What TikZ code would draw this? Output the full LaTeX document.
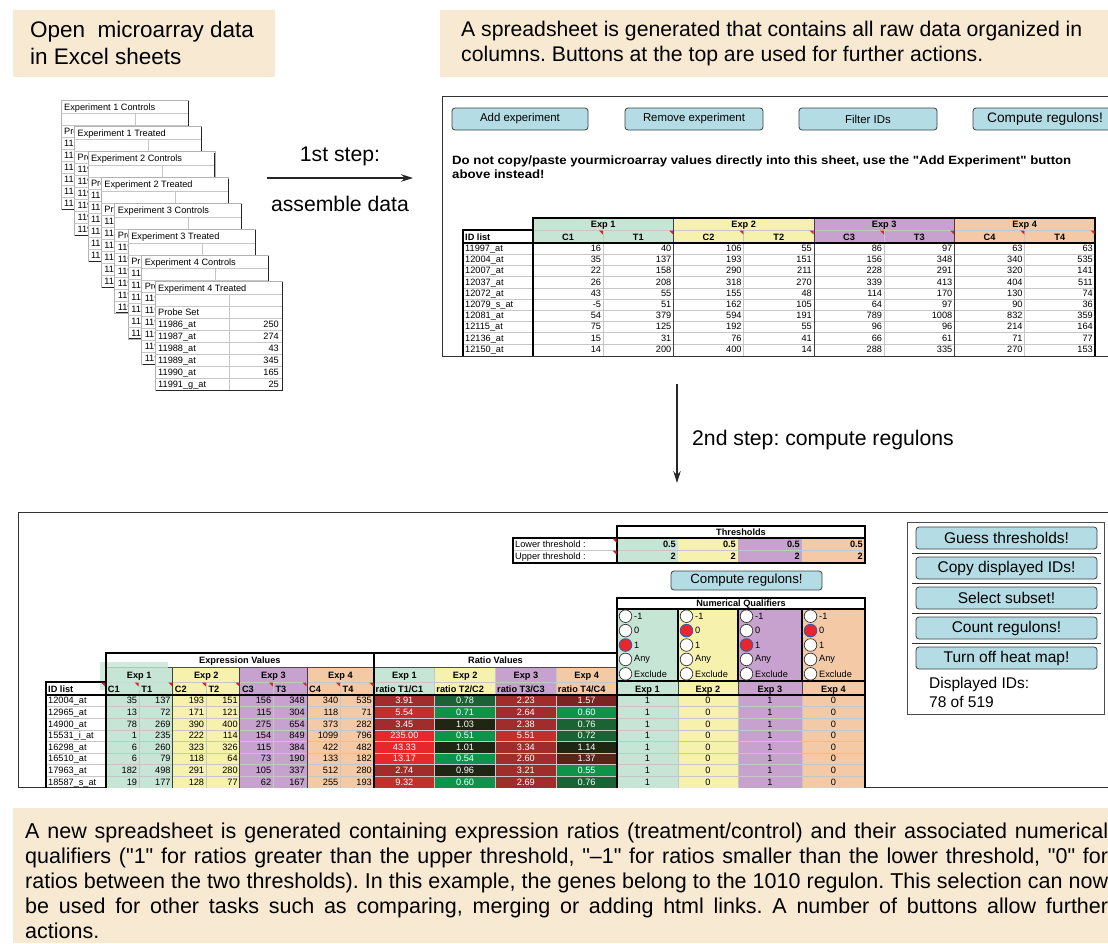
\documentclass[tikz,border=0pt]{standalone}
\usepackage{fontspec}
\setmainfont{Liberation Sans}
\newfontfamily\plainfont{Liberation Sans}
\newfontfamily\widefont[FakeStretch=1.1]{Liberation Sans}
\usetikzlibrary{arrows.meta}
\frenchspacing

\definecolor{capbg}{HTML}{F8E9D3}
\definecolor{btn}{HTML}{B4DCE5}
\definecolor{ex1}{HTML}{C7E5D4}
\definecolor{ex2}{HTML}{F7F1AE}
\definecolor{ex3}{HTML}{C8A2CE}
\definecolor{ex4}{HTML}{F4CAA6}
\definecolor{commark}{HTML}{E02020}
\definecolor{qred}{HTML}{E8262B}
\definecolor{qblue}{HTML}{3A5BA8}
\definecolor{hr4}{HTML}{E6282C}
\definecolor{hr3}{HTML}{C2302B}
\definecolor{hr2}{HTML}{A02C2C}
\definecolor{hr1}{HTML}{7A2521}
\definecolor{hr0}{HTML}{5A2414}
\definecolor{hk}{HTML}{1F2612}
\definecolor{hg1}{HTML}{1B6334}
\definecolor{hg2}{HTML}{0E944A}

\tikzset{
  tcell/.style={inner sep=0pt, font=\fontsize{9.2}{10}\selectfont},
  tbold/.style={inner sep=0pt, font=\fontsize{9.2}{10}\selectfont\bfseries},
  button/.style={draw=black!75, fill=btn, rounded corners=3pt, line width=0.8pt, inner sep=0pt},
  bigtext/.style={inner sep=0pt, anchor=base west, font=\fontsize{21.2}{25}\selectfont},
  captext/.style={inner sep=0pt, anchor=base west, font=\fontsize{21.5}{25}\selectfont},
  heavy/.style={line width=1.6pt},
  gridline/.style={draw=gray!45, line width=0.6pt},
  steparrow/.style={-{Stealth[length=12pt,width=7.5pt]}, line width=1.1pt, black!85},
  radio/.style={draw=black!80, fill=white, line width=0.7pt},
  radiosel/.style={draw=qblue, fill=qred, line width=0.9pt},
}
\newcommand{\commentmark}[2]{\fill[commark] ({#1-4.5},{#2+0.5}) -- ({#1-0.5},{#2+0.5}) -- ({#1-0.5},{#2+4.5}) -- cycle;}
\newcommand{\dq}{{\plainfont"}}
\newcommand{\capline}[1]{\makebox[1083pt][s]{#1}}

\begin{document}
\begin{tikzpicture}[x=1pt,y=-1pt]
\useasboundingbox (0,0) rectangle (1108,943);
\clip (0,0) rectangle (1108,943);

% captions
\fill[capbg] (13,10) rectangle (275,77);
\node[captext, font=\fontsize{22.5}{26}\selectfont] (cap1a) at (30,37.7) {Open\ \ microarray data};
\node[captext, font=\fontsize{22.5}{26}\selectfont] (cap1b) at (30,64.3) {in Excel sheets};
\fill[capbg] (440,10) rectangle (1108,77);
\node[bigtext] (cap2a) at (461,36) {A spreadsheet is generated that contains all raw data organized in};
\node[bigtext] (cap2b) at (461,61) {columns. Buttons at the top are used for further actions.};

% stacked excel sheets
\foreach \t [count=\i from 0] in {Experiment 1 Controls,Experiment 1 Treated,Experiment 2 Controls,Experiment 2 Treated,Experiment 3 Controls,Experiment 3 Treated,Experiment 4 Controls,Experiment 4 Treated}{
  \pgfmathsetmacro\sx{61+13.43*\i}
  \pgfmathsetmacro\sy{100+25.86*\i}
  \begin{scope}[shift={(\sx,\sy)}]
    \fill[white] (0,0) rectangle (127,109.5);
    \draw[gray!60, line width=0.6pt] (0,0) rectangle (127,109.5);
    \foreach \yy in {13.5,25.5,...,97.5} \draw[gridline] (0,\yy) -- (127,\yy);
    \draw[gridline] (74,13.5) -- (74,109.5);
    \draw[black!85, line width=1pt] (127,1) -- (127,109.5) -- (1,109.5);
    \node[tcell, anchor=base west] (sh\i) at (3,10.2) {\t};
    \node[tcell, anchor=base west] (sp\i) at (3,34.8) {Probe Set};
    \foreach \p/\v [count=\j from 0] in {11986\_at/250,11987\_at/274,11988\_at/43,11989\_at/345,11990\_at/165,11991\_g\_at/25}{
      \node[tcell, anchor=base west] (sp\i-\j) at (3,{46.8+12*\j}) {\p};
      \node[tcell, anchor=base east] (sv\i-\j) at (124,{46.8+12*\j}) {\v};
    }
  \end{scope}
}

% first step
\coordinate (a1s) at (267,178);
\coordinate (a1e) at (413,178);
\draw[steparrow] (a1s) -- (a1e);
\node[bigtext, anchor=base] (lstep1a) at (340,161.5) {1st step:};
\node[bigtext, anchor=base] (lstep1b) at (340,211.5) {assemble data};

% raw data spreadsheet
\draw[black!80, line width=0.9pt] (1112,96) -- (442,96) -- (442,356) -- (1112,356);
\node[button, minimum width=136pt, minimum height=22pt, font=\fontsize{11.4}{13}\selectfont] (badd) at (520,119) {Add experiment};
\node[button, minimum width=138pt, minimum height=22pt, font=\fontsize{11.4}{13}\selectfont] (brem) at (694,119) {Remove experiment};
\node[button, minimum width=138pt, minimum height=22pt, font=\fontsize{11.4}{13}\selectfont] (bfil) at (868,119) {Filter IDs};
\node[button, minimum width=144pt, minimum height=22pt, font=\fontsize{13.7}{15}\selectfont] (bcomp) at (1045,119) {Compute regulons!};
\node[inner sep=0pt, anchor=base west, font=\fontsize{12}{13}\widefont\bfseries] (warn1) at (452,164) {Do not copy/paste yourmicroarray values directly into this sheet, use the "Add Experiment" button};
\node[inner sep=0pt, anchor=base west, font=\fontsize{12}{13}\widefont\bfseries] (warn2) at (452,178.5) {above instead!};

\foreach \c [count=\g from 0] in {ex1,ex2,ex3,ex4}
  \fill[\c] ({533+140.5*\g},218) rectangle ({533+140.5*(\g+1)},243);
\foreach \r in {1,...,9} \draw[gridline] (463,{243+11.2*\r}) -- (1095,{243+11.2*\r});
\draw[gridline] (533,230) -- (1095,230);
\foreach \k in {1,3,5,7} \draw[gridline] ({533+70.25*\k},230) -- ({533+70.25*\k},356);
\foreach \k in {2,4,6} \draw[black!75, line width=0.8pt] ({533+70.25*\k},218) -- ({533+70.25*\k},356);
\draw[heavy] (533,356) -- (533,218) -- (1095,218) -- (1095,356);
\draw[heavy] (463,356) -- (463,230) -- (533,230);
\draw[heavy] (463,243) -- (1095,243);
\foreach \k in {1,...,8} {\commentmark{533+70.25*\k}{230}}
\foreach \n [count=\g from 0] in {1,2,3,4}
  \node[tbold, anchor=base] (texp\n) at ({603.25+140.5*\g},227.6) {Exp \n};
\foreach \s [count=\k from 0] in {C1,T1,C2,T2,C3,T3,C4,T4}
  \node[tbold, anchor=base] (tsub\s) at ({568.1+70.25*\k},240) {\s};
\node[tbold, anchor=base west] (tidh) at (465,240) {ID list};
\foreach \id [count=\r from 0] in {11997\_at,12004\_at,12007\_at,12037\_at,12072\_at,12079\_s\_at,12081\_at,12115\_at,12136\_at,12150\_at}
  \node[tcell, anchor=base west] (tid\r) at (465,{251.5+11.2*\r}) {\id};
\foreach \row [count=\r from 0] in {{16,40,106,55,86,97,63,63},{35,137,193,151,156,348,340,535},{22,158,290,211,228,291,320,141},{26,208,318,270,339,413,404,511},{43,55,155,48,114,170,130,74},{-5,51,162,105,64,97,90,36},{54,379,594,191,789,1008,832,359},{75,125,192,55,96,96,214,164},{15,31,76,41,66,61,71,77},{14,200,400,14,288,335,270,153}}{
  \foreach \v [count=\k from 1] in \row
    \node[tcell, anchor=base east] (tv\r-\k) at ({533+70.25*\k-2},{251.5+11.2*\r}) {\v};
}

% second step
\coordinate (a2s) at (677,384);
\coordinate (a2e) at (677,483);
\draw[steparrow] (a2s) -- (a2e);
\node[bigtext] (lstep2) at (692,445) {2nd step: compute regulons};

% regulon spreadsheet
\draw[black!80, line width=0.9pt] (1112,512) -- (18,512) -- (18,787.5) -- (1112,787.5);

\fill[white] (513,538) rectangle (617,563);
\foreach \c [count=\g from 0] in {ex1,ex2,ex3,ex4}{
  \fill[\c] ({105.7+67.075*\g},667) rectangle ({105.7+67.075*(\g+1)},788);
  \fill[\c] ({374+60.75*\g},667) rectangle ({374+60.75*(\g+1)},695);
}
\foreach \xa/\xb/\c in {617/678/ex1,678/738/ex2,738/802/ex3,802/865/ex4}{
  \fill[\c] (\xa,538) rectangle (\xb,563);
  \fill[\c] (\xa,609) rectangle (\xb,788);
}
\foreach \row [count=\r from 0] in {{3.91/hr2,0.78/hg1,2.23/hr2,1.57/hr1},{5.54/hr3,0.71/hg2,2.64/hr2,0.60/hg2},{3.45/hr2,1.03/hk,2.38/hr2,0.76/hg1},{235.00/hr4,0.51/hg2,5.51/hr3,0.72/hg1},{43.33/hr4,1.01/hk,3.34/hr2,1.14/hk},{13.17/hr4,0.54/hg2,2.60/hr2,1.37/hr0},{2.74/hr2,0.96/hk,3.21/hr2,0.55/hg2},{9.32/hr3,0.60/hg2,2.69/hr2,0.76/hg1}}{
  \foreach \v/\c [count=\k from 0] in \row{
    \fill[\c] ({374+60.75*\k},{695+11.6*\r}) rectangle ({374+60.75*(\k+1)},{695+11.6*(\r+1)});
    \node[tcell, text=white, anchor=base] (rv\r-\k) at ({404.4+60.75*\k},{703.8+11.6*\r}) {\v};
  }
}
\foreach \r in {1,...,7} \draw[gridline] (45.7,{695+11.6*\r}) -- (865,{695+11.6*\r});
\draw[gridline] (105.7,682) -- (617,682);
\draw[gridline] (513,550) -- (865,550);
\foreach \k in {1,3,5,7} \draw[gridline] ({105.7+33.5375*\k},682) -- ({105.7+33.5375*\k},788);
\foreach \k in {2,4,6} \draw[black!75, line width=0.8pt] ({105.7+33.5375*\k},667) -- ({105.7+33.5375*\k},788);
\foreach \k in {1,2,3} \draw[gridline] ({374+60.75*\k},667) -- ({374+60.75*\k},788);
\foreach \xq in {678,738,802}{
  \draw[black!75, line width=0.8pt] (\xq,681) -- (\xq,695);
  \draw[gridline] (\xq,695) -- (\xq,788);
}
\draw[black!70, line width=0.7pt] (105.7,667) -- (617,667);
\fill[ex1, opacity=0.8] (100,662) rectangle (168,690);
\draw[heavy] (105.7,788) -- (105.7,653) -- (617,653);
\draw[heavy] (374,653) -- (374,788);
\draw[heavy] (617,788) -- (617,598) -- (865,598) -- (865,788);
\draw[heavy] (617,609) -- (865,609);
\draw[heavy] (617,681) -- (865,681);
\foreach \xq in {678,738,802} \draw[heavy] (\xq,609) -- (\xq,681);
\draw[heavy] (45.7,788) -- (45.7,682) -- (105.7,682);
\draw[heavy] (45.7,695) -- (865,695);
\draw[heavy] (617,526) rectangle (865,563);
\draw[heavy] (617,538) -- (865,538);
\draw[heavy] (513,538) rectangle (617,563);
\commentmark{105.7}{682}
\foreach \k in {1,...,8} {\commentmark{105.7+33.5375*\k}{682}}
\commentmark{617}{538}
\commentmark{617}{550}

\node[tbold, anchor=base] (hthr) at (741,535.3) {Thresholds};
\node[tcell, anchor=base west] (llow) at (515,547.3) {Lower threshold :};
\node[tcell, anchor=base west] (lupp) at (515,559.8) {Upper threshold :};
\node[button, minimum width=151pt, minimum height=19pt, font=\fontsize{13.3}{15}\selectfont] (bcomp2) at (746.5,580.5) {Compute regulons!};
\node[tbold, anchor=base] (hnum) at (741,606.8) {Numerical Qualifiers};
\node[tbold, anchor=base] (hexpr) at (239.85,663.8) {Expression Values};
\node[tbold, anchor=base] (hrat) at (495.5,663.8) {Ratio Values};
\node[tbold, anchor=base west] (bidh) at (48,692) {ID list};
\foreach \n [count=\g from 0] in {1,2,3,4}{
  \node[tbold, anchor=base] (eexp\n) at ({139.24+67.075*\g},678) {Exp \n};
  \node[tbold, anchor=base] (rexp\n) at ({404.4+60.75*\g},678) {Exp \n};
  \node[tbold, anchor=base west] (rsub\n) at ({375.5+60.75*\g},692) {ratio T\n/C\n};
}
\foreach \s [count=\k from 0] in {C1,T1,C2,T2,C3,T3,C4,T4}
  \node[tbold, anchor=base west] (esub\s) at ({107.7+33.5375*\k},692) {\s};
\foreach \id [count=\r from 0] in {12004\_at,12965\_at,14900\_at,15531\_i\_at,16298\_at,16510\_at,17963\_at,18587\_s\_at}
  \node[tcell, anchor=base west] (bid\r) at (48,{703.8+11.6*\r}) {\id};
\foreach \row [count=\r from 0] in {{35,137,193,151,156,348,340,535},{13,72,171,121,115,304,118,71},{78,269,390,400,275,654,373,282},{1,235,222,114,154,849,1099,796},{6,260,323,326,115,384,422,482},{6,79,118,64,73,190,133,182},{182,498,291,280,105,337,512,280},{19,177,128,77,62,167,255,193}}{
  \foreach \v [count=\k from 1] in \row
    \node[tcell, anchor=base east] (ev\r-\k) at ({105.7+33.5375*\k-2},{703.8+11.6*\r}) {\v};
}
\foreach \xa/\xb/\n/\sel/\val in {617/678/1/3/1,678/738/2/2/0,738/802/3/3/1,802/865/4/2/0}{
  \node[tbold, anchor=base east] (lo\n) at ({\xb-2},547.3) {0.5};
  \node[tbold, anchor=base east] (up\n) at ({\xb-2},559.8) {2};
  \foreach \q [count=\m from 1] in {-1,0,1,Any,Exclude}{
    \ifnum\m=\sel
      \draw[radiosel] ({\xa+8.5},{601.8+14.4*\m}) circle[radius=6.3pt];
    \else
      \draw[radio] ({\xa+8.5},{601.8+14.4*\m}) circle[radius=6.3pt];
    \fi
    \node[tcell, anchor=west] (q\n-\m) at ({\xa+17},{601.8+14.4*\m}) {\q};
  }
  \node[tbold, anchor=base] (qexp\n) at ({(\xa+\xb)/2},692) {Exp \n};
  \foreach \r in {0,...,7}
    \node[tcell, anchor=base] (qv\n-\r) at ({(\xa+\xb)/2},{703.8+11.6*\r}) {\val};
}

% button panel
\draw[black!70, line width=0.8pt] (907,522) rectangle (1104,714);
\foreach \t [count=\b from 0] in {Guess thresholds!,Copy displayed IDs!,Select subset!,Count regulons!,Turn off heat map!}
  \node[button, minimum width=181pt, minimum height=22pt, font=\fontsize{15.5}{17}\selectfont] (bp\b) at (1006.5,{538+30*\b}) {\t};
\foreach \b in {0,...,3} \draw[black!80, line width=0.8pt] (912,{553+30*\b}) -- (1101,{553+30*\b});
\node[inner sep=0pt, anchor=base west, font=\fontsize{15.5}{17}\selectfont] (dispa) at (929,688) {Displayed IDs:};
\node[inner sep=0pt, anchor=base west, font=\fontsize{15.5}{17}\selectfont] (dispb) at (929,707) {78 of 519};

% explanation
\fill[capbg] (13,808) rectangle (1108,943);
\node[captext] (cap3a) at (25,838) {\capline{A new spreadsheet is generated containing expression ratios (treatment/control) and their associated numerical}};
\node[captext] (cap3b) at (25,863) {\capline{qualifiers (\dq1\dq{} for ratios greater than the upper threshold, \dq–1\dq{} for ratios smaller than the lower threshold, \dq0\dq{} for}};
\node[captext] (cap3c) at (25,888) {\capline{ratios between the two thresholds). In this example, the genes belong to the 1010 regulon. This selection can now}};
\node[captext] (cap3d) at (25,913) {\capline{be used for other tasks such as comparing, merging or adding html links. A number of buttons allow further}};
\node[captext] (cap3e) at (25,938) {actions.};
\end{tikzpicture}
\end{document}
